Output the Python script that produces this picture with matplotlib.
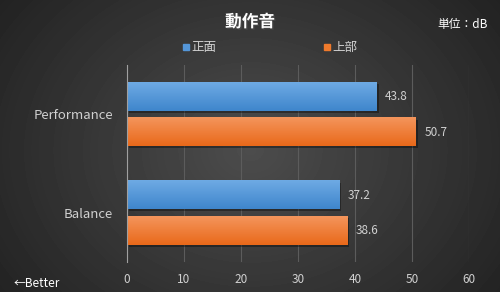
import numpy as np
import matplotlib
matplotlib.use('Agg')
import matplotlib.pyplot as plt
import matplotlib.patheffects as pe

plt.rcParams['font.family'] = ['Noto Sans CJK JP', 'DejaVu Sans']

# data
categories = ['Balance', 'Performance']
front = [37.2, 43.8]    # 正面
top = [38.6, 50.7]      # 上部
series_names = ['正面', '上部']
xticks = [0, 10, 20, 30, 40, 50, 60]

txt = '#d0d0d0'

fig = plt.figure(figsize=(5, 2.92), dpi=100)

# radial-ish dark background
bg = fig.add_axes([0, 0, 1, 1], zorder=-10)
yy, xx = np.mgrid[0:292, 0:500]
r = np.sqrt(((xx - 250) / 320.0) ** 2 + ((yy - 150) / 260.0) ** 2)
shade = np.clip(0.30 - 0.17 * r, 0.12, 0.30)
bg.imshow(shade, cmap='gray', vmin=0, vmax=1, aspect='auto', extent=[0, 1, 0, 1])
bg.axis('off')

ax = fig.add_axes([0.254, 0.103, 0.684, 0.674])
ax.patch.set_alpha(0)

y = np.arange(len(categories))
h = 0.29
off = 0.18
shadow = [pe.SimplePatchShadow(offset=(1.5, -1.5), shadow_rgbFace='black', alpha=0.35), pe.Normal()]

b1 = ax.barh(y + off, front, height=h, color='#5496d8', zorder=3, path_effects=shadow)
b2 = ax.barh(y - off, top, height=h, color='#ef7a2c', zorder=3, path_effects=shadow)

# vertical gradient on each bar
def grad(bars, c_top, c_bot):
    c1 = np.array(matplotlib.colors.to_rgb(c_top))
    c2 = np.array(matplotlib.colors.to_rgb(c_bot))
    t = np.linspace(0, 1, 50)[:, None]
    img = (c1 * (1 - t) + c2 * t)[:, None, :]
    for b in bars:
        x0, y0 = b.get_x(), b.get_y()
        w, hh = b.get_width(), b.get_height()
        ax.imshow(img, extent=[x0, x0 + w, y0, y0 + hh], aspect='auto', zorder=4, origin='upper')

grad(b1, '#6eaae4', '#3f86cc')
grad(b2, '#f4955c', '#e9691a')

for bars, vals in [(b1, front), (b2, top)]:
    for b, v in zip(bars, vals):
        ax.text(v + 1.5, b.get_y() + b.get_height() / 2, f'{v:.1f}', va='center', ha='left',
                color=txt, fontsize=8.5)

ax.set_xlim(0, 60)
ax.set_ylim(-0.5, 1.5)
ax.set_xticks(xticks)
ax.set_xticklabels([str(t) for t in xticks], color=txt, fontsize=8.5)
ax.set_yticks(y)
ax.set_yticklabels(categories, color=txt, fontsize=9.5)
ax.tick_params(length=0, pad=8)
ax.tick_params(axis='y', pad=10)
ax.grid(axis='x', color='#5c5c5c', linewidth=0.8, zorder=0)
for s in ['top', 'right', 'bottom']:
    ax.spines[s].set_visible(False)
ax.spines['left'].set_color('#a0a0a0')
ax.spines['left'].set_zorder(5)

fig.text(0.5, 0.925, '動作音', ha='center', va='center', color='white', fontsize=12, fontweight='bold',
         path_effects=[pe.withSimplePatchShadow(offset=(1, -1), alpha=0.6)])
fig.text(0.975, 0.915, '単位：dB', ha='right', va='center', color='white', fontsize=8.5)

# legend
fig.patches.append(plt.Rectangle((0.366, 0.828), 0.012, 0.021, transform=fig.transFigure, color='#5496d8', figure=fig))
fig.text(0.382, 0.838, series_names[0], ha='left', va='center', color=txt, fontsize=9)
fig.patches.append(plt.Rectangle((0.648, 0.828), 0.012, 0.021, transform=fig.transFigure, color='#ef7a2c', figure=fig))
fig.text(0.664, 0.838, series_names[1], ha='left', va='center', color=txt, fontsize=9)

fig.text(0.028, 0.03, '←Better', ha='left', va='center', color='white', fontsize=8.5)

fig.savefig('out.png', dpi=100)
